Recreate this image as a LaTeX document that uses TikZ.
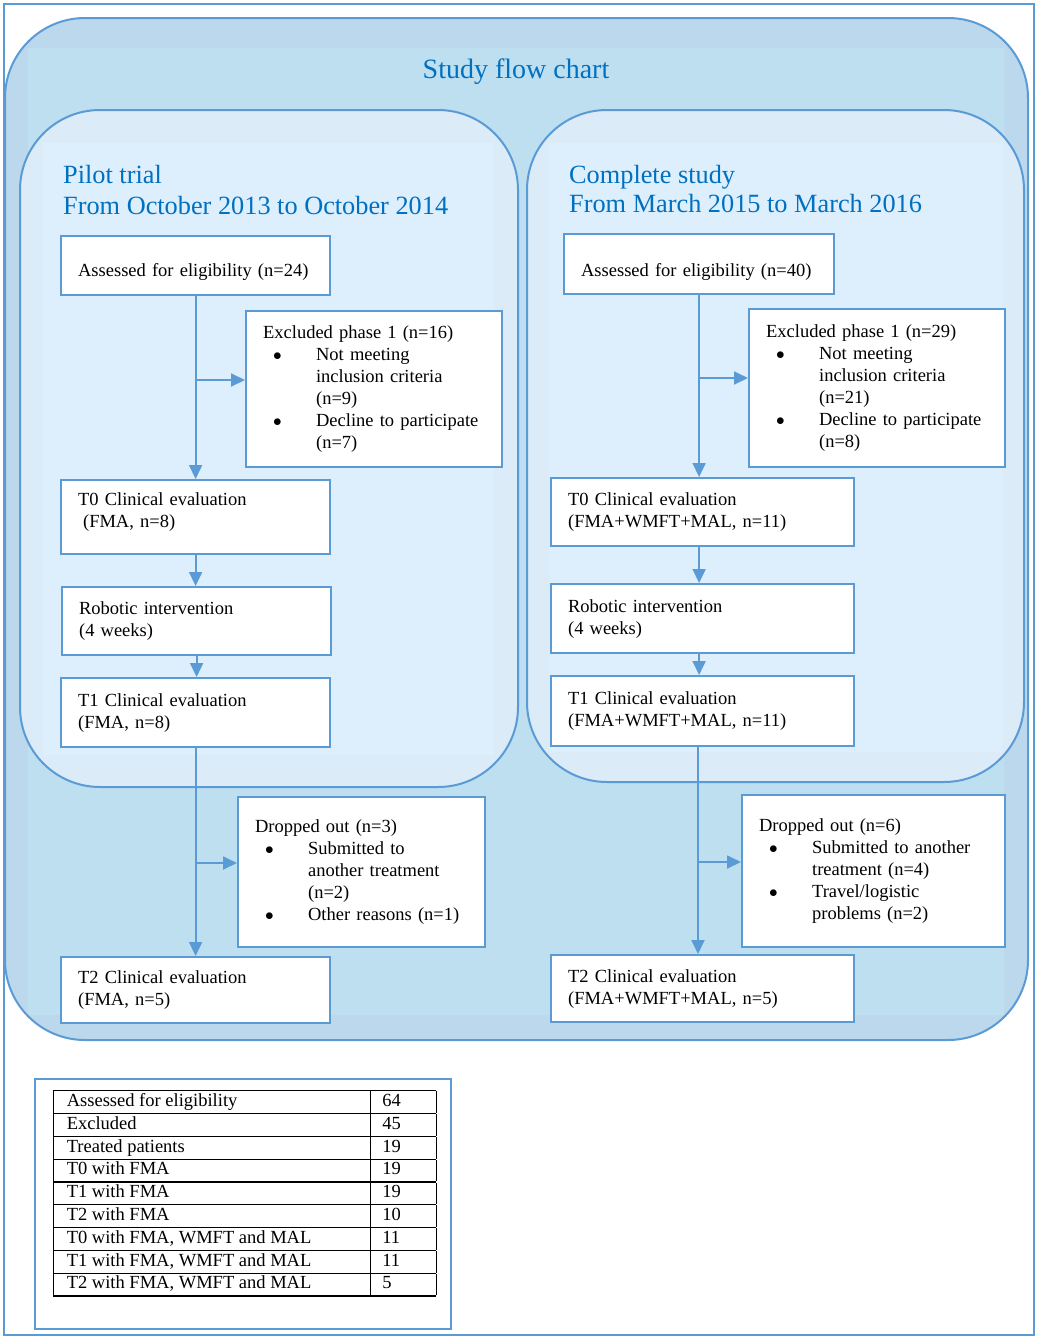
\documentclass[tikz,border=0pt]{standalone}
\usepackage{fontspec}
\setmainfont{Liberation Serif}
\usetikzlibrary{arrows.meta,calc}
\definecolor{chartBlue}{RGB}{91,155,213}
\definecolor{titleBlue}{RGB}{0,112,192}
\definecolor{outerFill}{RGB}{187,216,237}
\definecolor{outerCore}{RGB}{190,223,240}
\definecolor{panelFill}{RGB}{220,235,248}
\definecolor{panelCore}{RGB}{221,238,252}
\newcommand{\flowbullet}{\hspace*{10pt}\makebox[43pt][l]{$\bullet$}}
\newcommand{\flowindent}{\hspace*{53pt}}
\tikzset{
  flowbox/.style={draw=chartBlue, line width=2.2pt, fill=white, anchor=north west, inner xsep=17pt, inner ysep=0pt, align=left, font=\fontsize{18.5}{22}\selectfont},
  flowarrow/.style={draw=chartBlue, line width=1.8pt, -{Triangle[length=14pt,width=13pt]}},
  flowpanel/.style={draw=chartBlue, line width=2pt, rounded corners=80pt},
  paneltitle/.style={anchor=base west, inner sep=0pt, text=titleBlue, font=\fontsize{26.3}{31}\selectfont}
}

\begin{document}
\begin{tikzpicture}[x=1pt, y=-1pt]
			%%%%% START %%%%%
			\useasboundingbox (0,0) rectangle (1038,1339);
			\draw[chartBlue, line width=1.2pt] (4,4) rectangle (1034,1335);
			
			\fill[outerFill, rounded corners=80pt] (5,18) rectangle (1028,1040);
			\fill[outerCore] (28,48) rectangle (1004,1015);
			\draw[flowpanel] (5,18) rectangle (1028,1040);
			\node[anchor=base, inner sep=0pt, text=titleBlue, font=\fontsize{28}{34}\selectfont] (tStudy) at (516,78) {Study flow chart};
			
			\fill[panelFill, rounded corners=80pt] (20,110) rectangle (518,787);
			\fill[panelCore] (43,143) rectangle (494,755);
			\draw[flowpanel] (20,110) rectangle (518,787);
			
			\fill[panelFill, rounded corners=80pt] (527,110) rectangle (1024,782);
			\fill[panelCore] (550,143) rectangle (1002,752);
			\draw[flowpanel] (527,110) rectangle (1024,782);
			
			\node[paneltitle] (tPilot) at (63,183) {Pilot trial};
			\node[paneltitle] (tPilotDate) at (63,214) {From October 2013 to October 2014};
			\node[paneltitle] (tComplete) at (569,183) {Complete study};
			\node[paneltitle] (tCompleteDate) at (569,212) {From March 2015 to March 2016};
			
			%% pilot trial
			\node[flowbox, text width=235pt, minimum height=59pt] (pAssess) at (60,235) {\\[4pt]Assessed for eligibility (n=24)};
			\node[flowbox, text width=222pt, minimum height=156pt] (pExcl) at (245,310) {Excluded phase 1 (n=16)\\
				\flowbullet Not meeting\\ \flowindent inclusion criteria\\ \flowindent (n=9)\\
				\flowbullet Decline to participate\\ \flowindent (n=7)};
			\node[flowbox, text width=235pt, minimum height=74pt] (pT0) at (60,479) {T0 Clinical evaluation\\ \hspace*{5pt}(FMA, n=8)\rule[-14pt]{0pt}{14pt}};
			\node[flowbox, text width=235pt, minimum height=68pt] (pRobot) at (61,586) {Robotic intervention\\ (4 weeks)};
			\node[flowbox, text width=235pt, minimum height=69pt] (pT1) at (60,677) {T1 Clinical evaluation\\ (FMA, n=8)};
			\node[flowbox, text width=213pt, minimum height=150pt] (pDrop) at (237,796) {Dropped out (n=3)\\
				\flowbullet Submitted to\\ \flowindent another treatment\\ \flowindent (n=2)\\
				\flowbullet Other reasons (n=1)};
			\node[flowbox, text width=235pt, minimum height=66pt] (pT2) at (60,956) {T2 Clinical evaluation\\ (FMA, n=5)};
			
			\coordinate (pSplitA) at (194.5,380);
			\coordinate (pSplitB) at (194.5,863);
			\draw[flowarrow] (pAssess.south) -- (pT0.north);
			\draw[flowarrow] (pSplitA) -- (pSplitA -| pExcl.west);
			\draw[flowarrow] (pT0.south) -- (pT0.south |- pRobot.north);
			\draw[flowarrow] (pRobot.south) -- (pRobot.south |- pT1.north);
			\draw[flowarrow] (pT1.south) -- (pT2.north);
			\draw[flowarrow] (pSplitB) -- (pSplitB -| pDrop.west);
			
			%% complete study
			\node[flowbox, text width=236pt, minimum height=60pt] (cAssess) at (563,233) {\\[6pt]Assessed for eligibility (n=40)};
			\node[flowbox, text width=222pt, minimum height=158pt] (cExcl) at (748,308) {Excluded phase 1 (n=29)\\
				\flowbullet Not meeting\\ \flowindent inclusion criteria\\ \flowindent (n=21)\\
				\flowbullet Decline to participate\\ \flowindent (n=8)};
			\node[flowbox, text width=269pt, minimum height=68pt] (cT0) at (550,477) {T0 Clinical evaluation\\ (FMA+WMFT+MAL, n=11)};
			\node[flowbox, text width=269pt, minimum height=69pt] (cRobot) at (550,583) {Robotic intervention\\ (4 weeks)};
			\node[flowbox, text width=269pt, minimum height=70pt] (cT1) at (550,675) {T1 Clinical evaluation\\ (FMA+WMFT+MAL, n=11)};
			\node[flowbox, text width=229pt, minimum height=152pt] (cDrop) at (741,794) {Dropped out (n=6)\\
				\flowbullet Submitted to another\\ \flowindent treatment (n=4)\\
				\flowbullet Travel/logistic\\ \flowindent problems (n=2)};
			\node[flowbox, text width=269pt, minimum height=67pt] (cT2) at (550,954) {T2 Clinical evaluation\\ (FMA+WMFT+MAL, n=5)};
			
			\coordinate (cSplitA) at (698,378);
			\coordinate (cSplitB) at (698,862);
			\draw[flowarrow] (cAssess.south) -- (cAssess.south |- cT0.north);
			\draw[flowarrow] (cSplitA) -- (cSplitA -| cExcl.west);
			\draw[flowarrow] (cT0.south -| cAssess.south) -- (cRobot.north -| cAssess.south);
			\draw[flowarrow] (cRobot.south -| cAssess.south) -- (cT1.north -| cAssess.south);
			\draw[flowarrow] (cT1.south -| cSplitB) -- (cT2.north -| cSplitB);
			\draw[flowarrow] (cSplitB) -- (cSplitB -| cDrop.west);
			
			%% summary table
			\draw[chartBlue, line width=1.5pt] (35,1079) rectangle (451,1329);
			\node[anchor=north west, inner sep=0pt, font=\fontsize{18.5}{21.6}\selectfont] (tStats) at (53,1090) {%
				\setlength{\arrayrulewidth}{1.2pt}%
				\begin{tabular}{|@{\hspace{13pt}}p{304pt}@{}|@{\hspace{11pt}}p{54pt}@{}|}
					\hline
					Assessed for eligibility & 64\\ \hline
					Excluded & 45\\ \hline
					Treated patients & 19\\ \hline
					T0 with FMA & 19\\ \hline
					T1 with FMA & 19\\ \hline
					T2 with FMA & 10\\ \hline
					T0 with FMA, WMFT and MAL & 11\\ \hline
					T1 with FMA, WMFT and MAL & 11\\ \hline
					T2 with FMA, WMFT and MAL & 5\\ \hline
				\end{tabular}};
			
			%%%%% END %%%%%
\end{tikzpicture}
\end{document}
